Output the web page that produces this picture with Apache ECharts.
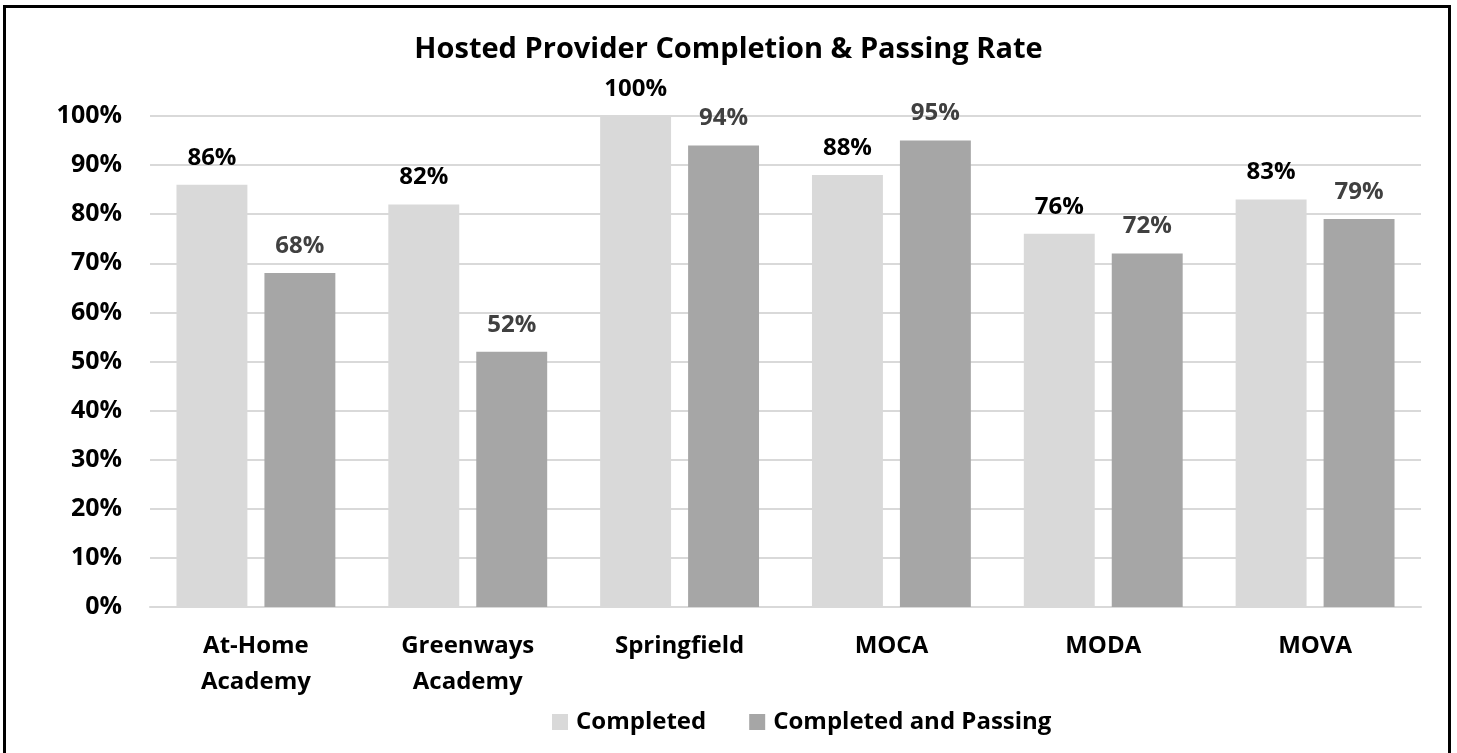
<!DOCTYPE html>
<html>
<head>
<meta charset="utf-8">
<script src="https://cdn.jsdelivr.net/npm/echarts@6/dist/echarts.min.js"></script>
<style>
    html, body {
        margin: 0;
        padding: 0;
        background: #fff;
    }
    #main {
        width: 1457px;
        height: 753px;
    }
    .frame {
        position: absolute;
        left: 3px;
        top: 5px;
        width: 1442px;
        height: 800px;
        border: 3px solid #000;
        pointer-events: none;
    }
</style>
</head>
<body>
<div id="main"></div>
<div class="frame"></div>
<script>
const categories = ['At-Home\nAcademy', 'Greenways\nAcademy', 'Springfield', 'MOCA', 'MODA', 'MOVA'];
const completed = [86, 82, 100, 88, 76, 83];
const passing = [68, 52, 94, 95, 72, 79];
const seriesNames = ['Completed', 'Completed and Passing'];

const font = '"Open Sans", "Noto Sans", sans-serif';
const chart = echarts.init(document.getElementById('main'));

chart.setOption({
    animation: false,
    textStyle: { fontFamily: font },
    title: {
        text: 'Hosted Provider Completion & Passing Rate',
        left: 'center',
        top: 30,
        textStyle: {
            fontFamily: font,
            fontWeight: 'bold',
            fontSize: 29,
            color: '#000'
        }
    },
    legend: {
        data: seriesNames,
        left: 547,
        top: 705,
        itemWidth: 16,
        itemHeight: 16,
        itemGap: 43,
        icon: 'rect',
        textStyle: {
            fontFamily: font,
            fontWeight: 'bold',
            fontSize: 24,
            color: '#000',
            padding: [0, 0, 0, 3]
        }
    },
    grid: {
        left: 150,
        right: 36,
        top: 116,
        bottom: 146,
        containLabel: false
    },
    xAxis: {
        type: 'category',
        data: categories,
        axisLine: { lineStyle: { color: '#d9d9d9', width: 2 } },
        axisTick: { show: false },
        axisLabel: {
            margin: 21,
            lineHeight: 36,
            fontFamily: font,
            fontWeight: 'bold',
            fontSize: 24,
            color: '#000'
        }
    },
    yAxis: {
        type: 'value',
        min: 0,
        max: 100,
        interval: 10,
        axisLine: { show: false },
        axisTick: { show: false },
        splitLine: { lineStyle: { color: '#d9d9d9', width: 2 } },
        axisLabel: {
            margin: 28,
            formatter: '{value}%',
            fontFamily: font,
            fontWeight: 'bold',
            fontSize: 25,
            color: '#000'
        }
    },
    series: [
        {
            name: seriesNames[0],
            type: 'bar',
            data: completed,
            barGap: '24%',
            barCategoryGap: '25%',
            itemStyle: { color: '#d9d9d9' },
            label: {
                show: true,
                position: 'top',
                distance: 15,
                formatter: '{c}%',
                fontFamily: font,
                fontWeight: 'bold',
                fontSize: 24,
                color: '#000'
            }
        },
        {
            name: seriesNames[1],
            type: 'bar',
            data: passing,
            itemStyle: { color: '#a6a6a6' },
            label: {
                show: true,
                position: 'top',
                distance: 15,
                formatter: '{c}%',
                fontFamily: font,
                fontWeight: 'bold',
                fontSize: 24,
                color: '#404040'
            }
        }
    ]
});
</script>
</body>
</html>
